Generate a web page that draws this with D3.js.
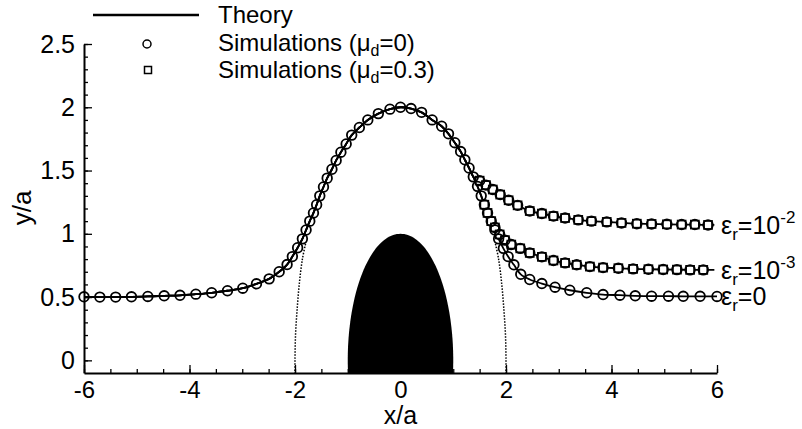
<!DOCTYPE html>
<html><head><meta charset="utf-8">
<script src="https://cdn.jsdelivr.net/npm/d3@7"></script>
<style>
html,body{margin:0;padding:0;background:#fff;}
svg text{font-family:"Liberation Sans",Arial,Helvetica,sans-serif;fill:#000;}
</style></head>
<body><svg id="c" width="802" height="429"></svg>
<script>
// ---------- data (x/a, y/a) ----------
const xTicks = [-6,-4,-2,0,2,4,6];
const yTicks = [0,0.5,1,1.5,2,2.5];
const obstacleRadius = 1;

// shared incoming part + arch (identical for all eps_r)
const shared = [[-6.00,0.502],[-5.70,0.500],[-5.40,0.500],[-5.10,0.502],[-4.79,0.505],[-4.48,0.510],
 [-4.18,0.514],[-3.88,0.523],[-3.58,0.534],[-3.28,0.550],[-2.99,0.570],[-2.73,0.605],[-2.49,0.644],
 [-2.30,0.700],[-2.15,0.757],[-2.05,0.82],[-1.95,0.89],[-1.86,0.96],[-1.79,1.03],[-1.72,1.10],
 [-1.65,1.165],[-1.59,1.23],[-1.53,1.30],[-1.46,1.37],[-1.39,1.44],[-1.30,1.51],[-1.22,1.58],
 [-1.13,1.645],[-1.03,1.71],[-0.925,1.78],[-0.78,1.84],[-0.62,1.90],[-0.42,1.95],[-0.20,1.985],
 [0.00,2.00],[0.20,1.99],[0.40,1.96],[0.60,1.90],[0.78,1.85],[0.91,1.79],[1.03,1.72],[1.14,1.65],
 [1.22,1.585],[1.30,1.52],[1.38,1.45]];

const branchEps0 = [[1.38,1.45],[1.46,1.375],[1.53,1.30],[1.59,1.23],[1.65,1.165],[1.72,1.10],[1.79,1.03],
 [1.86,0.96],[1.95,0.885],[2.04,0.82],[2.15,0.755],[2.28,0.68],[2.45,0.639],[2.68,0.607],[2.93,0.578],
 [3.21,0.554],[3.53,0.534],[3.84,0.520],[4.16,0.515],[4.45,0.510],[4.76,0.507],[5.08,0.507],
 [5.36,0.506],[5.68,0.506],[6.00,0.505]];

const branchEps3 = [[1.38,1.45],[1.46,1.375],[1.53,1.30],[1.59,1.23],[1.65,1.165],[1.72,1.10],[1.79,1.05],
 [1.88,0.995],[1.98,0.95],[2.10,0.915],[2.27,0.885],[2.45,0.849],[2.68,0.818],[2.90,0.789],[3.12,0.770],
 [3.34,0.755],[3.59,0.741],[3.84,0.733],[4.13,0.728],[4.41,0.723],[4.70,0.720],[4.98,0.718],
 [5.24,0.717],[5.49,0.715],[5.74,0.715]];
const endEps3 = 5.95;

const branchEps2 = [[1.38,1.45],[1.50,1.42],[1.62,1.385],[1.75,1.35],[1.89,1.31],[2.05,1.265],[2.22,1.225],
 [2.45,1.18],[2.68,1.16],[2.90,1.14],[3.12,1.125],[3.37,1.11],[3.62,1.10],[3.91,1.094],[4.19,1.086],
 [4.48,1.080],[4.76,1.078],[5.05,1.075],[5.33,1.073],[5.58,1.073],[5.83,1.070]];
const endEps2 = 5.95;

// inner dotted theoretical branch
const innerLeft = [[-1.80,0.92],[-1.86,0.80],[-1.92,0.60],[-1.96,0.40],[-1.99,0.20],[-2.00,0.00],[-2.00,-0.10]];
const innerRight = [[1.80,0.92],[1.86,0.80],[1.92,0.60],[1.96,0.40],[1.99,0.20],[2.00,0.00],[2.00,-0.10]];

const epsLabels = [
  {sup:"-2", main:"10", branch:branchEps2, end:endEps2},
  {sup:"-3", main:"10", branch:branchEps3, end:endEps3},
  {sup:null, main:"0",  branch:branchEps0, end:6.0}
];

// ---------- drawing ----------
const svg = d3.select("#c");
const L=84, R=717, T=44, B=373;
const x = d3.scaleLinear().domain([-6,6]).range([L,R]);
const y = d3.scaleLinear().domain([-0.1,2.5]).range([B,T]);

svg.append("clipPath").attr("id","clip").append("rect")
  .attr("x",L).attr("y",T-10).attr("width",R-L+30).attr("height",B-T+10);

// obstacle (unit circle, cut at the axis)
const ang = d3.range(0, 361, 2).map(a=>a*Math.PI/180);
svg.append("path")
  .attr("clip-path","url(#clip)")
  .attr("d", d3.line().x(a=>x(obstacleRadius*Math.cos(a))).y(a=>y(obstacleRadius*Math.sin(a)))(ang)+"Z")
  .attr("fill","#000");

const line = d3.line().x(d=>x(d[0])).y(d=>y(d[1])).curve(d3.curveCatmullRom);

// dotted inner branches
[innerLeft, innerRight].forEach(arr=>{
  svg.append("path").attr("d", line(arr)).attr("fill","none")
    .attr("stroke","#000").attr("stroke-width",1.5).attr("stroke-dasharray","1.5,1.5");
});

// theory lines
epsLabels.forEach(e=>{
  const pts = shared.concat(e.branch.slice(1));
  const last = pts[pts.length-1];
  if (e.end > last[0]) pts.push([e.end, last[1]]);
  svg.append("path").attr("d", line(pts)).attr("fill","none")
    .attr("stroke","#000").attr("stroke-width",1.8);
});

// markers
const circlePts = shared.concat(branchEps0.slice(1), branchEps3.slice(6), branchEps2.slice(1));
const squarePts = branchEps3.slice(3).concat(branchEps2.slice(1));
svg.append("g").selectAll("rect").data(squarePts).join("rect")
  .attr("x",d=>x(d[0])-4).attr("y",d=>y(d[1])-4).attr("width",8).attr("height",8)
  .attr("fill","#fff").attr("stroke","#000").attr("stroke-width",1.7);
svg.append("g").selectAll("circle").data(circlePts).join("circle")
  .attr("cx",d=>x(d[0])).attr("cy",d=>y(d[1])).attr("r",4.8)
  .attr("fill","none").attr("stroke","#000").attr("stroke-width",1.8);

// axes
const fmt = d=>String(d);
const gx = svg.append("g").attr("transform",`translate(0,${B})`);
gx.call(d3.axisBottom(x).tickValues(d3.range(-6,6.01,0.5)).tickSize(-4).tickSizeOuter(0).tickFormat(""));
gx.call(g=>g.select(".domain").remove());
const gx2 = svg.append("g").attr("transform",`translate(0,${B})`);
gx2.call(d3.axisBottom(x).tickValues(xTicks).tickSize(-8).tickSizeOuter(0).tickFormat(fmt).tickPadding(8));
gx2.selectAll("text").attr("font-size",24).attr("dy","0.72em");

const gy = svg.append("g").attr("transform",`translate(${L},0)`);
gy.call(d3.axisLeft(y).tickValues(d3.range(0,2.501,0.1)).tickSize(-4).tickSizeOuter(0).tickFormat(""));
gy.call(g=>g.select(".domain").remove());
const gy2 = svg.append("g").attr("transform",`translate(${L},0)`);
gy2.call(d3.axisLeft(y).tickValues(yTicks).tickSize(-8).tickSizeOuter(0).tickFormat(fmt).tickPadding(9));
gy2.selectAll("text").attr("font-size",25);

svg.selectAll(".tick line").attr("stroke","#000").attr("stroke-width",1.3);
svg.selectAll(".domain").attr("stroke","#000").attr("stroke-width",2);

// axis titles
svg.append("text").attr("x",x(0)).attr("y",424).attr("text-anchor","middle").attr("font-size",25).text("x/a");
svg.append("text").attr("transform","translate(31,208) rotate(-90)").attr("text-anchor","middle").attr("font-size",26).text("y/a");

// eps labels
epsLabels.forEach(e=>{
  const last = e.branch[e.branch.length-1];
  const t = svg.append("text").attr("x",721).attr("y",y(last[1])+9).attr("font-size",25);
  t.append("tspan").text("ε");
  t.append("tspan").attr("font-size",17).attr("dy",6).text("r");
  t.append("tspan").attr("dy",-6).text("="+e.main);
  if (e.sup) t.append("tspan").attr("font-size",17).attr("dy",-11).text(e.sup);
});

// legend
svg.append("line").attr("x1",93).attr("x2",199).attr("y1",15).attr("y2",15)
  .attr("stroke","#000").attr("stroke-width",2.4);
svg.append("circle").attr("cx",147).attr("cy",44).attr("r",4).attr("fill","#fff")
  .attr("stroke","#000").attr("stroke-width",1.5);
svg.append("rect").attr("x",144.5).attr("y",66.5).attr("width",7).attr("height",7).attr("fill","#fff")
  .attr("stroke","#000").attr("stroke-width",1.5);
const lt = [["Theory",null,null],["Simulations (μ","d","=0)"],["Simulations (μ","d","=0.3)"]];
lt.forEach((r,i)=>{
  const t = svg.append("text").attr("x",218).attr("y",[23,51,78][i]).attr("font-size",24);
  t.append("tspan").text(r[0]);
  if (r[1]) {
    t.append("tspan").attr("font-size",16).attr("dy",5).text(r[1]);
    t.append("tspan").attr("dy",-5).text(r[2]);
  }
});
</script></body></html>
